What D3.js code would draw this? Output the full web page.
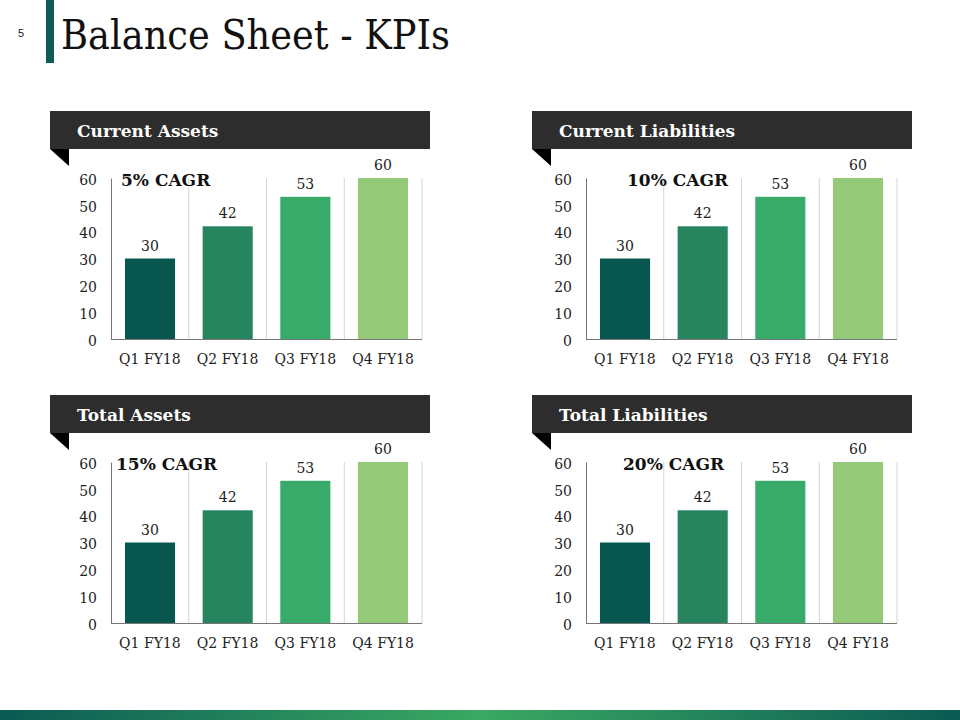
<!DOCTYPE html>
<html>
<head>
<meta charset="utf-8">
<script src="https://cdn.jsdelivr.net/npm/d3@7/dist/d3.min.js"></script>
<style>
html,body{margin:0;padding:0;background:#fff;}
svg{display:block;}
</style>
</head>
<body>
<svg id="chart" width="960" height="720"></svg>
<script>
// ---- data ----
const categories = ["Q1 FY18", "Q2 FY18", "Q3 FY18", "Q4 FY18"];
const panelTitles = ["Current Assets", "Current Liabilities", "Total Assets", "Total Liabilities"];
const cagrLabels = ["5% CAGR", "10% CAGR", "15% CAGR", "20% CAGR"];
const currentAssets = [30, 42, 53, 60];
const currentLiabilities = [30, 42, 53, 60];
const totalAssets = [30, 42, 53, 60];
const totalLiabilities = [30, 42, 53, 60];
const yTicks = [0, 10, 20, 30, 40, 50, 60];
const barColors = ["#07574f", "#26845e", "#38aa69", "#94c979"];
const pageTitle = "Balance Sheet - KPIs";
const pageNumber = "5";

const seriesList = [currentAssets, currentLiabilities, totalAssets, totalLiabilities];

// ---- layout ----
const layout = [
  {hx: 50,  hy: 111, plotLeft: 111, cagrDx: 10},
  {hx: 532, hy: 111, plotLeft: 586, cagrDx: 41},
  {hx: 50,  hy: 395, plotLeft: 111, cagrDx: 5},
  {hx: 532, hy: 395, plotLeft: 586, cagrDx: 37}
];
const SERIF = "Georgia, 'DejaVu Serif', 'Liberation Serif', serif";
const svg = d3.select("#chart");

// footer gradient
const defs = svg.append("defs");
const grad = defs.append("linearGradient").attr("id", "foot").attr("x1", "0%").attr("x2", "100%");
grad.append("stop").attr("offset", "0%").attr("stop-color", "#0b5a53");
grad.append("stop").attr("offset", "50%").attr("stop-color", "#3aa963");
grad.append("stop").attr("offset", "100%").attr("stop-color", "#0b5a53");
svg.append("rect").attr("x", 0).attr("y", 710).attr("width", 960).attr("height", 10).attr("fill", "url(#foot)");

// title
svg.append("rect").attr("x", 46).attr("y", 0).attr("width", 8).attr("height", 63).attr("fill", "#0d5c55");
svg.append("text").attr("x", 21).attr("y", 37).attr("text-anchor", "middle")
  .attr("font-family", "'Liberation Sans', Arial, sans-serif").attr("font-size", 11).attr("fill", "#222")
  .text(pageNumber);
svg.append("text").attr("x", 61).attr("y", 49)
  .attr("font-family", SERIF).attr("font-size", 41).attr("fill", "#111")
  .attr("textLength", 389).attr("lengthAdjust", "spacingAndGlyphs")
  .text(pageTitle);

const plotW = 311, plotH = 161;

layout.forEach((L, i) => {
  const g = svg.append("g");
  // header bar
  g.append("rect").attr("x", L.hx).attr("y", L.hy).attr("width", 380).attr("height", 38).attr("fill", "#2d2d2d");
  g.append("path").attr("d", `M${L.hx},${L.hy + 38}L${L.hx + 19},${L.hy + 38}L${L.hx + 19},${L.hy + 55}Z`).attr("fill", "#000");
  g.append("text").attr("x", L.hx + 27).attr("y", L.hy + 26)
    .attr("font-family", SERIF).attr("font-weight", "bold").attr("font-size", 17).attr("fill", "#fff")
    .text(panelTitles[i]);

  const top = L.hy + 67;
  const x = d3.scaleBand().domain(categories).range([L.plotLeft, L.plotLeft + plotW]).paddingInner(0.355).paddingOuter(0.18);
  const xGrid = d3.scaleBand().domain(categories).range([L.plotLeft, L.plotLeft + plotW]);
  const y = d3.scaleLinear().domain([0, 60]).range([top + plotH, top]);

  // vertical gridlines at category boundaries
  g.selectAll(".vg").data(categories.slice(1).concat(["__end"])).enter().append("line")
    .attr("x1", d => d === "__end" ? L.plotLeft + plotW : xGrid(d))
    .attr("x2", d => d === "__end" ? L.plotLeft + plotW : xGrid(d))
    .attr("y1", y(60)).attr("y2", y(0))
    .attr("stroke", "#d4d4d4").attr("stroke-width", 1);

  // bars
  const vals = seriesList[i];
  g.selectAll(".bar").data(categories).enter().append("rect")
    .attr("x", d => x(d)).attr("width", x.bandwidth())
    .attr("y", (d, k) => y(vals[k])).attr("height", (d, k) => y(0) - y(vals[k]))
    .attr("fill", (d, k) => barColors[k]);

  // value labels
  g.selectAll(".vl").data(categories).enter().append("text")
    .attr("x", d => x(d) + x.bandwidth() / 2).attr("y", (d, k) => y(vals[k]) - 8)
    .attr("text-anchor", "middle").attr("font-family", SERIF).attr("font-size", 14).attr("fill", "#222")
    .text((d, k) => vals[k]);

  // y axis
  const yAxis = g.append("g").attr("transform", `translate(${L.plotLeft},0)`)
    .call(d3.axisLeft(y).tickValues(yTicks).tickSize(0).tickPadding(14));
  yAxis.select(".domain").attr("stroke", "#777");
  yAxis.selectAll("text").attr("font-family", SERIF).attr("font-size", 14).attr("fill", "#222").attr("dy", "0.45em");

  // x axis
  const xAxis = g.append("g").attr("transform", `translate(0,${top + plotH})`)
    .call(d3.axisBottom(xGrid).tickSize(0).tickPadding(15));
  xAxis.select(".domain").attr("stroke", "#777").attr("d", `M${L.plotLeft},0.5H${L.plotLeft + plotW}`);
  xAxis.selectAll("text").attr("font-family", SERIF).attr("font-size", 14).attr("fill", "#222");

  // CAGR
  g.append("text").attr("x", L.plotLeft + L.cagrDx).attr("y", top + 8)
    .attr("font-family", SERIF).attr("font-weight", "bold").attr("font-size", 17).attr("fill", "#111")
    .text(cagrLabels[i]);
});
</script>
</body>
</html>
